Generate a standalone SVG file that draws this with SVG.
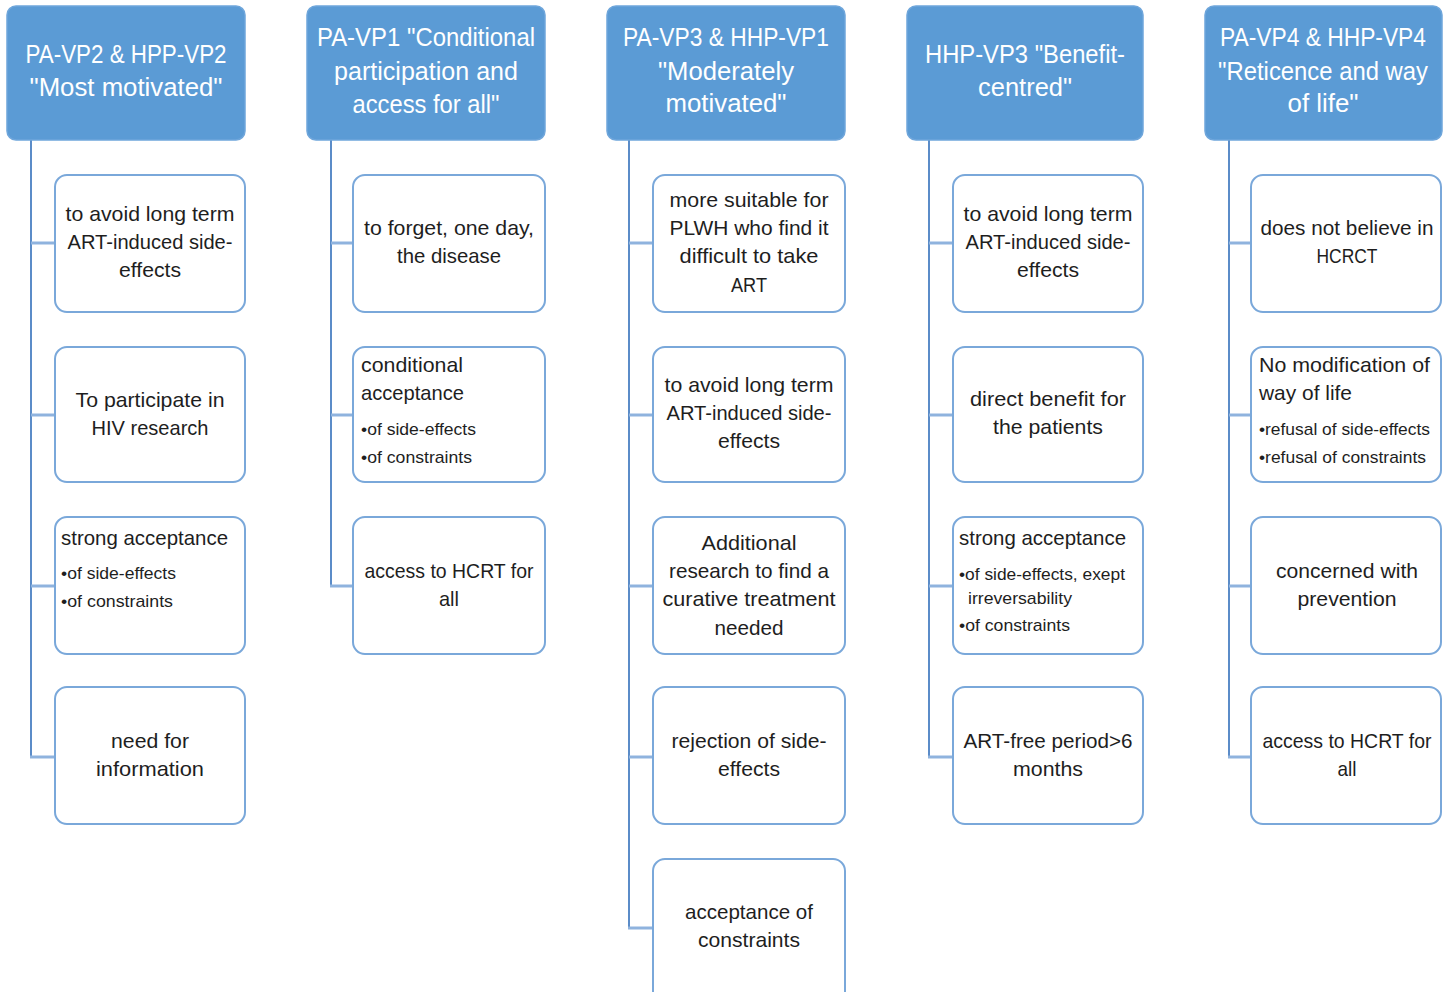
<svg xmlns="http://www.w3.org/2000/svg" width="1443" height="992" viewBox="0 0 1443 992">
<style>
.hdr{fill:#5B9BD5;stroke:#6FA6DB;stroke-width:1.5}
.box{fill:#FFFFFF;stroke:#7AA8DA;stroke-width:2}
.ht{font-family:"Liberation Sans",Arial,sans-serif;font-size:26px;fill:#FFFFFF;text-anchor:middle}
.t{font-family:"Liberation Sans",Arial,sans-serif;font-size:21px;fill:#1E1E1E;text-anchor:middle}
.tl{font-family:"Liberation Sans",Arial,sans-serif;font-size:21px;fill:#1E1E1E;text-anchor:start}
.b{font-family:"Liberation Sans",Arial,sans-serif;font-size:17px;fill:#1E1E1E;text-anchor:start}
.vl{stroke:#5B8CC8;stroke-width:2;fill:none}
.tk{stroke:#8FB3DE;stroke-width:3;fill:none}
</style>
<rect width="1443" height="992" fill="#FFFFFF"/>
<g id="connectors">
<line class="vl" x1="31" y1="140" x2="31" y2="757"/>
<line class="tk" x1="31" y1="243" x2="55" y2="243"/>
<line class="tk" x1="31" y1="415" x2="55" y2="415"/>
<line class="tk" x1="31" y1="586" x2="55" y2="586"/>
<line class="tk" x1="30" y1="757" x2="55" y2="757"/>
<line class="vl" x1="331" y1="140" x2="331" y2="586"/>
<line class="tk" x1="331" y1="243" x2="353" y2="243"/>
<line class="tk" x1="331" y1="415" x2="353" y2="415"/>
<line class="tk" x1="330" y1="586" x2="353" y2="586"/>
<line class="vl" x1="629" y1="140" x2="629" y2="928"/>
<line class="tk" x1="629" y1="243" x2="653" y2="243"/>
<line class="tk" x1="629" y1="415" x2="653" y2="415"/>
<line class="tk" x1="629" y1="586" x2="653" y2="586"/>
<line class="tk" x1="629" y1="757" x2="653" y2="757"/>
<line class="tk" x1="628" y1="928" x2="653" y2="928"/>
<line class="vl" x1="929" y1="140" x2="929" y2="757"/>
<line class="tk" x1="929" y1="243" x2="953" y2="243"/>
<line class="tk" x1="929" y1="415" x2="953" y2="415"/>
<line class="tk" x1="929" y1="586" x2="953" y2="586"/>
<line class="tk" x1="928" y1="757" x2="953" y2="757"/>
<line class="vl" x1="1229" y1="140" x2="1229" y2="757"/>
<line class="tk" x1="1229" y1="243" x2="1251" y2="243"/>
<line class="tk" x1="1229" y1="415" x2="1251" y2="415"/>
<line class="tk" x1="1229" y1="586" x2="1251" y2="586"/>
<line class="tk" x1="1228" y1="757" x2="1251" y2="757"/>
</g>

<g id="h1">
<rect class="hdr" x="7" y="6" width="238" height="134" rx="9"/>
<text class="ht" x="126" y="63" textLength="201" lengthAdjust="spacingAndGlyphs">PA-VP2 &amp; HPP-VP2</text>
<text class="ht" x="126" y="96" textLength="193" lengthAdjust="spacingAndGlyphs">"Most motivated"</text>
</g>
<g id="c1n1">
<rect class="box" x="55" y="175" width="190" height="137" rx="12"/>
<text class="t" x="150" y="221" textLength="169" lengthAdjust="spacingAndGlyphs">to avoid long term</text>
<text class="t" x="150" y="249" textLength="165" lengthAdjust="spacingAndGlyphs">ART-induced side-</text>
<text class="t" x="150" y="277" textLength="62" lengthAdjust="spacingAndGlyphs">effects</text>
</g>
<g id="c1n2">
<rect class="box" x="55" y="347" width="190" height="135" rx="12"/>
<text class="t" x="150" y="407" textLength="149" lengthAdjust="spacingAndGlyphs">To participate in</text>
<text class="t" x="150" y="435" textLength="117" lengthAdjust="spacingAndGlyphs">HIV research</text>
</g>
<g id="c1n3">
<rect class="box" x="55" y="517" width="190" height="137" rx="12"/>
<text class="tl" x="61" y="545" textLength="167" lengthAdjust="spacingAndGlyphs">strong acceptance</text>
<text class="b" x="61" y="579" textLength="115" lengthAdjust="spacingAndGlyphs">•of side-effects</text>
<text class="b" x="61" y="607" textLength="112" lengthAdjust="spacingAndGlyphs">•of constraints</text>
</g>
<g id="c1n4">
<rect class="box" x="55" y="687" width="190" height="137" rx="12"/>
<text class="t" x="150" y="748" textLength="78" lengthAdjust="spacingAndGlyphs">need for</text>
<text class="t" x="150" y="776" textLength="108" lengthAdjust="spacingAndGlyphs">information</text>
</g>

<g id="h2">
<rect class="hdr" x="307" y="6" width="238" height="134" rx="9"/>
<text class="ht" x="426" y="46" textLength="218" lengthAdjust="spacingAndGlyphs">PA-VP1 "Conditional</text>
<text class="ht" x="426" y="80" textLength="184" lengthAdjust="spacingAndGlyphs">participation and</text>
<text class="ht" x="426" y="113" textLength="147" lengthAdjust="spacingAndGlyphs">access for all"</text>
</g>
<g id="c2n1">
<rect class="box" x="353" y="175" width="192" height="137" rx="12"/>
<text class="t" x="449" y="235" textLength="170" lengthAdjust="spacingAndGlyphs">to forget, one day,</text>
<text class="t" x="449" y="263" textLength="104" lengthAdjust="spacingAndGlyphs">the disease</text>
</g>
<g id="c2n2">
<rect class="box" x="353" y="347" width="192" height="135" rx="12"/>
<text class="tl" x="361" y="372" textLength="102" lengthAdjust="spacingAndGlyphs">conditional</text>
<text class="tl" x="361" y="400" textLength="103" lengthAdjust="spacingAndGlyphs">acceptance</text>
<text class="b" x="361" y="435" textLength="115" lengthAdjust="spacingAndGlyphs">•of side-effects</text>
<text class="b" x="361" y="463" textLength="111" lengthAdjust="spacingAndGlyphs">•of constraints</text>
</g>
<g id="c2n3">
<rect class="box" x="353" y="517" width="192" height="137" rx="12"/>
<text class="t" x="449" y="578" textLength="169" lengthAdjust="spacingAndGlyphs">access to HCRT for</text>
<text class="t" x="449" y="606" textLength="20" lengthAdjust="spacingAndGlyphs">all</text>
</g>

<g id="h3">
<rect class="hdr" x="607" y="6" width="238" height="134" rx="9"/>
<text class="ht" x="726" y="46" textLength="206" lengthAdjust="spacingAndGlyphs">PA-VP3 &amp; HHP-VP1</text>
<text class="ht" x="726" y="80" textLength="136" lengthAdjust="spacingAndGlyphs">"Moderately</text>
<text class="ht" x="726" y="112" textLength="121" lengthAdjust="spacingAndGlyphs">motivated"</text>
</g>
<g id="c3n1">
<rect class="box" x="653" y="175" width="192" height="137" rx="12"/>
<text class="t" x="749" y="207" textLength="159" lengthAdjust="spacingAndGlyphs">more suitable for</text>
<text class="t" x="749" y="235" textLength="159" lengthAdjust="spacingAndGlyphs">PLWH who find it</text>
<text class="t" x="749" y="263" textLength="139" lengthAdjust="spacingAndGlyphs">difficult to take</text>
<text class="t" x="749" y="292" textLength="36" lengthAdjust="spacingAndGlyphs">ART</text>
</g>
<g id="c3n2">
<rect class="box" x="653" y="347" width="192" height="135" rx="12"/>
<text class="t" x="749" y="392" textLength="169" lengthAdjust="spacingAndGlyphs">to avoid long term</text>
<text class="t" x="749" y="420" textLength="165" lengthAdjust="spacingAndGlyphs">ART-induced side-</text>
<text class="t" x="749" y="448" textLength="62" lengthAdjust="spacingAndGlyphs">effects</text>
</g>
<g id="c3n3">
<rect class="box" x="653" y="517" width="192" height="137" rx="12"/>
<text class="t" x="749" y="550" textLength="95" lengthAdjust="spacingAndGlyphs">Additional</text>
<text class="t" x="749" y="578" textLength="160" lengthAdjust="spacingAndGlyphs">research to find a</text>
<text class="t" x="749" y="606" textLength="173" lengthAdjust="spacingAndGlyphs">curative treatment</text>
<text class="t" x="749" y="635" textLength="69" lengthAdjust="spacingAndGlyphs">needed</text>
</g>
<g id="c3n4">
<rect class="box" x="653" y="687" width="192" height="137" rx="12"/>
<text class="t" x="749" y="748" textLength="155" lengthAdjust="spacingAndGlyphs">rejection of side-</text>
<text class="t" x="749" y="776" textLength="62" lengthAdjust="spacingAndGlyphs">effects</text>
</g>
<g id="c3n5">
<rect class="box" x="653" y="859" width="192" height="145" rx="12"/>
<text class="t" x="749" y="919" textLength="128" lengthAdjust="spacingAndGlyphs">acceptance of</text>
<text class="t" x="749" y="947" textLength="102" lengthAdjust="spacingAndGlyphs">constraints</text>
</g>

<g id="h4">
<rect class="hdr" x="907" y="6" width="236" height="134" rx="9"/>
<text class="ht" x="1025" y="63" textLength="200" lengthAdjust="spacingAndGlyphs">HHP-VP3 "Benefit-</text>
<text class="ht" x="1025" y="96" textLength="94" lengthAdjust="spacingAndGlyphs">centred"</text>
</g>
<g id="c4n1">
<rect class="box" x="953" y="175" width="190" height="137" rx="12"/>
<text class="t" x="1048" y="221" textLength="169" lengthAdjust="spacingAndGlyphs">to avoid long term</text>
<text class="t" x="1048" y="249" textLength="165" lengthAdjust="spacingAndGlyphs">ART-induced side-</text>
<text class="t" x="1048" y="277" textLength="62" lengthAdjust="spacingAndGlyphs">effects</text>
</g>
<g id="c4n2">
<rect class="box" x="953" y="347" width="190" height="135" rx="12"/>
<text class="t" x="1048" y="406" textLength="156" lengthAdjust="spacingAndGlyphs">direct benefit for</text>
<text class="t" x="1048" y="434" textLength="110" lengthAdjust="spacingAndGlyphs">the patients</text>
</g>
<g id="c4n3">
<rect class="box" x="953" y="517" width="190" height="137" rx="12"/>
<text class="tl" x="959" y="545" textLength="167" lengthAdjust="spacingAndGlyphs">strong acceptance</text>
<text class="b" x="959" y="580" textLength="166" lengthAdjust="spacingAndGlyphs">•of side-effects, exept</text>
<text class="b" x="968" y="604" textLength="104" lengthAdjust="spacingAndGlyphs">irreversability</text>
<text class="b" x="959" y="631" textLength="111" lengthAdjust="spacingAndGlyphs">•of constraints</text>
</g>
<g id="c4n4">
<rect class="box" x="953" y="687" width="190" height="137" rx="12"/>
<text class="t" x="1048" y="748" textLength="169" lengthAdjust="spacingAndGlyphs">ART-free period&gt;6</text>
<text class="t" x="1048" y="776" textLength="70" lengthAdjust="spacingAndGlyphs">months</text>
</g>

<g id="h5">
<rect class="hdr" x="1205" y="6" width="237" height="134" rx="9"/>
<text class="ht" x="1323" y="46" textLength="206" lengthAdjust="spacingAndGlyphs">PA-VP4 &amp; HHP-VP4</text>
<text class="ht" x="1323" y="80" textLength="210" lengthAdjust="spacingAndGlyphs">"Reticence and way</text>
<text class="ht" x="1323" y="112" textLength="71" lengthAdjust="spacingAndGlyphs">of life"</text>
</g>
<g id="c5n1">
<rect class="box" x="1251" y="175" width="190" height="137" rx="12"/>
<text class="t" x="1347" y="235" textLength="173" lengthAdjust="spacingAndGlyphs">does not believe in</text>
<text class="t" x="1347" y="263" textLength="61" lengthAdjust="spacingAndGlyphs">HCRCT</text>
</g>
<g id="c5n2">
<rect class="box" x="1251" y="347" width="190" height="135" rx="12"/>
<text class="tl" x="1259" y="372" textLength="171" lengthAdjust="spacingAndGlyphs">No modification of</text>
<text class="tl" x="1259" y="400" textLength="93" lengthAdjust="spacingAndGlyphs">way of life</text>
<text class="b" x="1259" y="435" textLength="171" lengthAdjust="spacingAndGlyphs">•refusal of side-effects</text>
<text class="b" x="1259" y="463" textLength="167" lengthAdjust="spacingAndGlyphs">•refusal of constraints</text>
</g>
<g id="c5n3">
<rect class="box" x="1251" y="517" width="190" height="137" rx="12"/>
<text class="t" x="1347" y="578" textLength="142" lengthAdjust="spacingAndGlyphs">concerned with</text>
<text class="t" x="1347" y="606" textLength="99" lengthAdjust="spacingAndGlyphs">prevention</text>
</g>
<g id="c5n4">
<rect class="box" x="1251" y="687" width="190" height="137" rx="12"/>
<text class="t" x="1347" y="748" textLength="169" lengthAdjust="spacingAndGlyphs">access to HCRT for</text>
<text class="t" x="1347" y="776" textLength="19" lengthAdjust="spacingAndGlyphs">all</text>
</g>
</svg>
